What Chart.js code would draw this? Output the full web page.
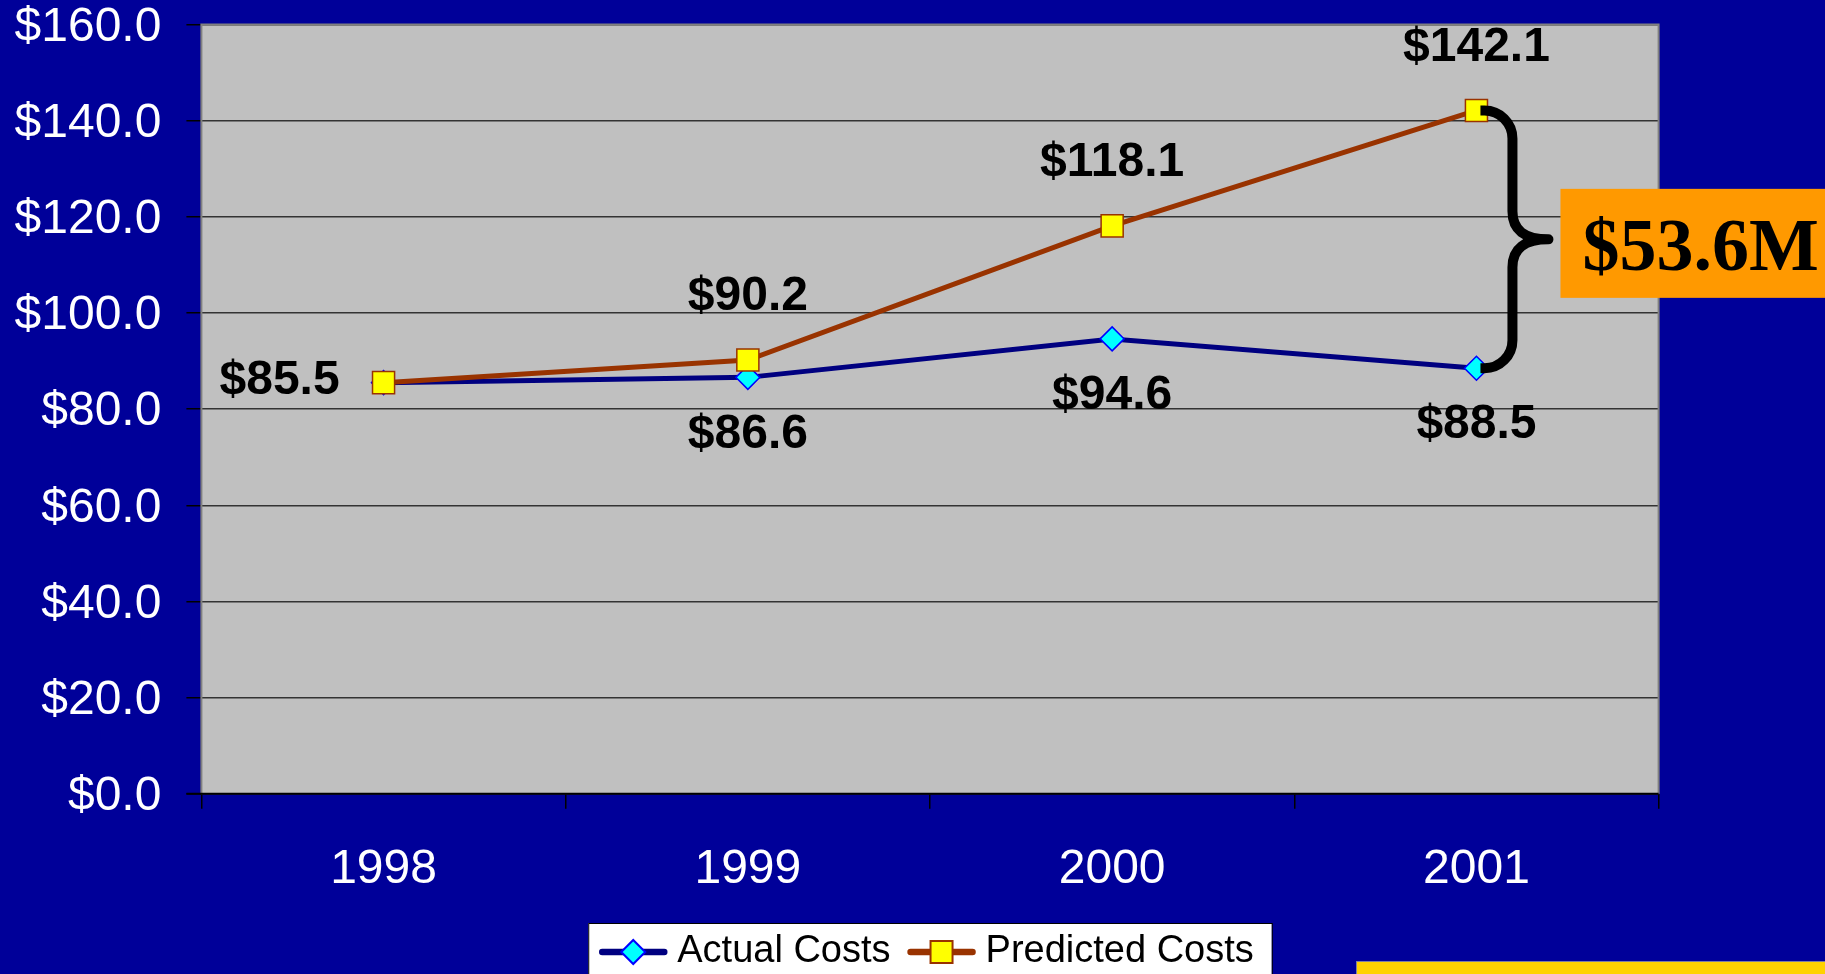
<!DOCTYPE html>
<html>
<head>
<meta charset="utf-8">
<title>Actual vs Predicted Costs</title>
<script src="https://cdn.jsdelivr.net/npm/chart.js@4/dist/chart.umd.min.js"></script>
<style>
  html, body { margin: 0; padding: 0; background: #000099; overflow: hidden; }
  #wrap { position: relative; width: 1825px; height: 974px; }
</style>
</head>
<body>
<div id="wrap"><canvas id="costChart"></canvas></div>
<script>
// data
const years = ['1998', '1999', '2000', '2001']
const actualCosts = [85.5, 86.6, 94.6, 88.5]
const predictedCosts = [85.5, 90.2, 118.1, 142.1]
const yMin = 0
const yMax = 160
const yStep = 20

const sansFont = '"Liberation Sans", Arial, sans-serif'
const serifFont = '"Liberation Serif", "Times New Roman", serif'
const money = v => '$' + v.toFixed(1)

// point labels, brace, callout box, legend and footer bar
const extras = {
    id: 'extras',
    beforeDraw(chart){
        const {ctx, chartArea: a} = chart
        ctx.save()
        ctx.fillStyle = '#C0C0C0'
        ctx.fillRect(a.left, a.top, a.right - a.left, a.bottom - a.top)
        ctx.restore()
    },
    beforeDatasetsDraw(chart){
        const {ctx, chartArea: a} = chart
        ctx.save()
        ctx.lineWidth = 2
        ctx.strokeStyle = '#808080'
        ctx.beginPath()
        ctx.moveTo(a.left, a.bottom)
        ctx.lineTo(a.left, a.top)
        ctx.lineTo(a.right, a.top)
        ctx.lineTo(a.right, a.bottom)
        ctx.stroke()
        ctx.strokeStyle = '#000'
        ctx.beginPath()
        ctx.moveTo(a.left - 15, a.bottom)
        ctx.lineTo(a.right, a.bottom)
        ctx.stroke()
        ctx.restore()
    },
    afterDraw(chart){
        const ctx = chart.ctx
        const actMeta = chart.getDatasetMeta(0)
        const preMeta = chart.getDatasetMeta(1)

        // value labels
        ctx.save()
        ctx.font = 'bold 48px ' + sansFont
        ctx.fillStyle = '#000'
        ctx.textAlign = 'center'
        ctx.textBaseline = 'middle'
        years.forEach((y, i) => {
            const pa = actMeta.data[i], pp = preMeta.data[i]
            if (actualCosts[i] === predictedCosts[i]) {
                ctx.fillText(money(predictedCosts[i]), pp.x - 104, pp.y - 2)
            } else {
                ctx.fillText(money(predictedCosts[i]), pp.x, pp.y - 63)
                ctx.fillText(money(actualCosts[i]), pa.x, pa.y + 57)
            }
        })
        ctx.restore()

        // brace between the last two points
        const last = years.length - 1
        const p = preMeta.data[last], q = actMeta.data[last]
        const xs = p.x + 4, xv = p.x + 36, xTip = p.x + 72
        const yMid = (p.y + q.y) / 2
        const r = 28
        ctx.save()
        ctx.strokeStyle = '#000'
        ctx.lineWidth = 10
        ctx.lineCap = 'butt'
        ctx.lineJoin = 'round'
        ctx.beginPath()
        ctx.moveTo(xs, p.y)
        ctx.arcTo(xv, p.y, xv, p.y + r, r)
        ctx.lineTo(xv, yMid - r)
        ctx.quadraticCurveTo(xv, yMid, xTip, yMid)
        ctx.quadraticCurveTo(xv, yMid, xv, yMid + r)
        ctx.lineTo(xv, q.y - r)
        ctx.arcTo(xv, q.y, xs, q.y, r)
        ctx.lineTo(xs, q.y)
        ctx.stroke()

        // callout box with the gap
        const gap = predictedCosts[last] - actualCosts[last]
        const boxLeft = xTip + 12
        const boxH = 109
        const boxTop = yMid + 4 - boxH / 2
        ctx.fillStyle = '#FF9900'
        ctx.fillRect(boxLeft, boxTop, chart.width - boxLeft, boxH)
        ctx.fillStyle = '#000'
        ctx.font = 'bold 74px ' + serifFont
        ctx.textAlign = 'left'
        ctx.textBaseline = 'alphabetic'
        ctx.fillText('$' + gap.toFixed(1) + 'M', boxLeft + 22, boxTop + boxH / 2 + 27)
        ctx.restore()

        // legend
        const a = chart.chartArea
        ctx.save()
        ctx.font = '38px ' + sansFont
        const lineLen = 68, textGap = 10, pad = 11, itemGap = 17, padRight = 18
        const items = chart.data.datasets.map(ds => ({ds, w: ctx.measureText(ds.label).width}))
        let total = pad + padRight + itemGap * (items.length - 1)
        items.forEach(it => total += lineLen + textGap + it.w)
        const lx = (a.left + a.right) / 2 - total / 2
        const ly = 923
        const cy = 952
        ctx.fillStyle = '#fff'
        ctx.fillRect(lx, ly, total, chart.height - ly + 10)
        ctx.strokeStyle = '#000'
        ctx.lineWidth = 1
        ctx.strokeRect(lx + 0.5, ly + 0.5, total, chart.height - ly + 10)
        let x = lx + pad
        items.forEach(it => {
            const ds = it.ds
            ctx.strokeStyle = ds.borderColor
            ctx.lineWidth = 6.5
            ctx.lineCap = 'round'
            ctx.beginPath()
            ctx.moveTo(x + 3, cy)
            ctx.lineTo(x + lineLen - 3, cy)
            ctx.stroke()
            const mx = x + lineLen / 2
            ctx.fillStyle = ds.pointBackgroundColor
            ctx.strokeStyle = ds.pointBorderColor
            ctx.lineWidth = 2
            ctx.beginPath()
            if (ds.pointStyle === 'rectRot') {
                ctx.moveTo(mx - 12, cy)
                ctx.lineTo(mx, cy - 12)
                ctx.lineTo(mx + 12, cy)
                ctx.lineTo(mx, cy + 12)
                ctx.closePath()
            } else {
                ctx.rect(mx - 11, cy - 11, 22, 22)
            }
            ctx.fill()
            ctx.stroke()
            ctx.fillStyle = '#000'
            ctx.textAlign = 'left'
            ctx.textBaseline = 'middle'
            ctx.fillText(ds.label, x + lineLen + textGap, cy)
            x += lineLen + textGap + it.w + itemGap
        })
        ctx.restore()

        // yellow footer bar
        ctx.save()
        ctx.fillStyle = '#FFD200'
        ctx.fillRect(1356, 961, chart.width - 1356, 13)
        ctx.strokeStyle = '#7f7fa0'
        ctx.lineWidth = 1
        ctx.strokeRect(1356.5, 961.5, chart.width - 1356, 14)
        ctx.restore()
    }
}

new Chart(document.getElementById('costChart'), {
    type: 'line',
    data: {
        labels: years,
        datasets: [
            {
                label: 'Actual Costs',
                data: actualCosts,
                borderColor: '#000080',
                borderWidth: 5,
                pointStyle: 'rectRot',
                pointRadius: 12,
                pointBackgroundColor: '#00FFFF',
                pointBorderColor: '#0000FF',
                pointBorderWidth: 1.5,
                tension: 0,
                order: 1
            },
            {
                label: 'Predicted Costs',
                data: predictedCosts,
                borderColor: '#993300',
                borderWidth: 5,
                pointStyle: 'rect',
                pointRadius: 15.6,
                pointBackgroundColor: '#FFFF00',
                pointBorderColor: '#993300',
                pointBorderWidth: 1.5,
                tension: 0,
                order: 0
            }
        ]
    },
    options: {
        responsive: true,
        maintainAspectRatio: false,
        animation: false,
        events: [],
        layout: {
            padding: {top: 24.4, right: 166.4, left: 0, bottom: 0}
        },
        scales: {
            x: {
                offset: true,
                afterFit: s => { s.height = 180.2 },
                border: {display: false},
                grid: {
                    offset: true,
                    drawOnChartArea: false,
                    drawTicks: true,
                    tickLength: 15,
                    tickColor: '#000',
                    lineWidth: 1.5
                },
                ticks: {
                    color: '#fff',
                    padding: 32,
                    font: {family: sansFont, size: 48}
                }
            },
            y: {
                min: yMin,
                max: yMax,
                afterFit: s => {
                    s.width = 201.4
                    s.paddingTop = 0
                    s.paddingBottom = 0
                },
                border: {display: false},
                grid: {
                    color: '#333',
                    lineWidth: 1.5,
                    tickLength: 15,
                    tickColor: '#000'
                },
                ticks: {
                    stepSize: yStep,
                    color: '#fff',
                    padding: 25,
                    labelOffset: 3,
                    font: {family: sansFont, size: 48},
                    callback: v => money(v)
                }
            }
        },
        plugins: {
            legend: {display: false},
            tooltip: {enabled: false}
        }
    },
    plugins: [extras]
})
</script>
</body>
</html>
